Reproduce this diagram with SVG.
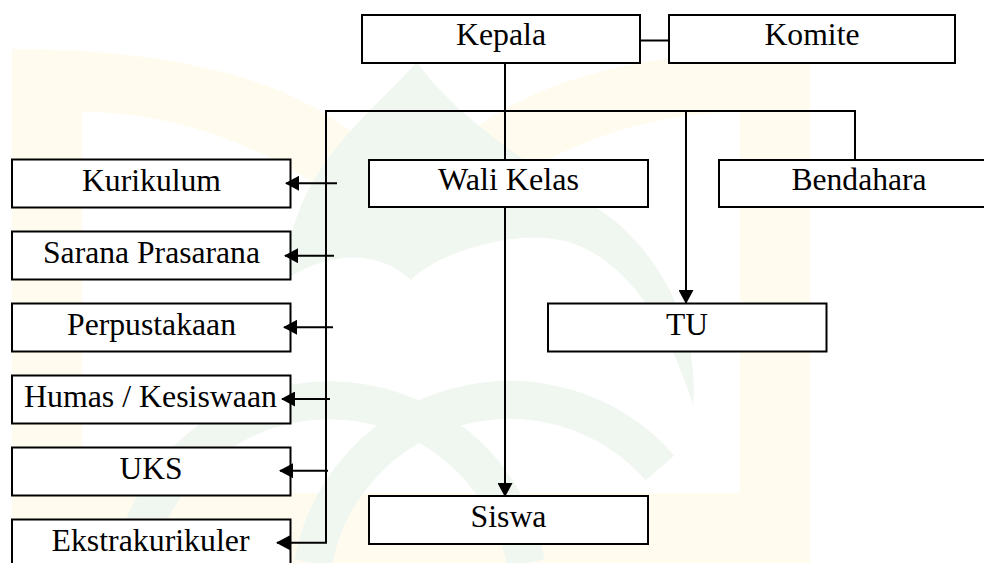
<svg xmlns="http://www.w3.org/2000/svg" width="984" height="563" viewBox="0 0 984 563">
  <style>
    .box { fill: #ffffff; stroke: #000000; stroke-width: 2; }
    .lbl { font-size: 31px; fill: #000000; text-anchor: middle; }
    .ln { fill: none; stroke: #000000; stroke-width: 2; }
    .arr { marker-end: url(#ah); }
    .wmy { fill: #fffcef; fill-rule: evenodd; }
    .wmg { fill: #f0f7f1; }
    .wmgs { fill: none; stroke: #f0f7f1; stroke-width: 38; }
  </style>
  <defs>
    <marker id="ah" markerUnits="userSpaceOnUse" markerWidth="14" markerHeight="15" refX="13" refY="7.5" orient="auto">
      <path d="M0,0 L14,7.5 L0,15 Z" fill="#000000"/>
    </marker>
  </defs>

  <rect x="0" y="0" width="984" height="563" fill="#ffffff"/>

  <g id="watermark">
    <path class="wmy" d="M12,563 L12,49 C200,50 330,85 411,190 C492,85 622,50 810,49 L810,563 Z M82,493 L82,112 C200,112 340,170 411,280 C482,170 622,112 740,112 L740,493 Z"/>
    <path class="wmg" d="M417,62 C365,120 290,170 285,280 C330,250 380,250 411,280 C440,250 520,230 560,240 C610,250 660,300 693,405 C700,330 660,250 600,210 C520,160 450,110 417,62 Z"/>
    <path class="wmgs" d="M133,563 A200,200 0 0 1 526,563"/>
    <path class="wmgs" d="M313,563 A200,200 0 0 1 660,468"/>
  </g>

  <g id="nodes" font-family="Liberation Serif, Times New Roman, serif">
  <g id="node-kepala">
    <rect class="box" x="362" y="15" width="278" height="48"/>
    <text class="lbl" x="501" y="45" textLength="90" lengthAdjust="spacingAndGlyphs">Kepala</text>
  </g>
  <g id="node-komite">
    <rect class="box" x="669" y="15" width="286" height="48"/>
    <text class="lbl" x="812" y="45" textLength="95" lengthAdjust="spacingAndGlyphs">Komite</text>
  </g>
  <g id="node-walikelas">
    <rect class="box" x="369" y="160" width="279" height="47"/>
    <text class="lbl" x="508.5" y="190" textLength="141" lengthAdjust="spacingAndGlyphs">Wali Kelas</text>
  </g>
  <g id="node-bendahara">
    <rect class="box" x="719" y="160" width="280" height="47"/>
    <text class="lbl" x="859" y="190" textLength="135" lengthAdjust="spacingAndGlyphs">Bendahara</text>
  </g>
  <g id="node-tu">
    <rect class="box" x="548" y="303.5" width="278.5" height="48"/>
    <text class="lbl" x="687" y="335" textLength="42" lengthAdjust="spacingAndGlyphs">TU</text>
  </g>
  <g id="node-siswa">
    <rect class="box" x="369" y="496" width="279" height="48"/>
    <text class="lbl" x="508.5" y="527" textLength="76" lengthAdjust="spacingAndGlyphs">Siswa</text>
  </g>
  <g id="node-kurikulum">
    <rect class="box" x="12" y="159.5" width="278.5" height="48"/>
    <text class="lbl" x="151.5" y="191" textLength="139" lengthAdjust="spacingAndGlyphs">Kurikulum</text>
  </g>
  <g id="node-sarana">
    <rect class="box" x="12" y="231.5" width="278.5" height="48"/>
    <text class="lbl" x="151.5" y="263" textLength="217" lengthAdjust="spacingAndGlyphs">Sarana Prasarana</text>
  </g>
  <g id="node-perpustakaan">
    <rect class="box" x="12" y="303.5" width="278.5" height="48"/>
    <text class="lbl" x="151.5" y="335" textLength="169" lengthAdjust="spacingAndGlyphs">Perpustakaan</text>
  </g>
  <g id="node-humas">
    <rect class="box" x="12" y="375.5" width="278.5" height="48"/>
    <text class="lbl" x="150.5" y="407" textLength="253" lengthAdjust="spacingAndGlyphs">Humas / Kesiswaan</text>
  </g>
  <g id="node-uks">
    <rect class="box" x="12" y="447.5" width="278.5" height="48"/>
    <text class="lbl" x="151" y="479" textLength="63" lengthAdjust="spacingAndGlyphs">UKS</text>
  </g>
  <g id="node-ekstrakurikuler">
    <rect class="box" x="12" y="519.5" width="278.5" height="60"/>
    <text class="lbl" x="150.5" y="551" textLength="198" lengthAdjust="spacingAndGlyphs">Ekstrakurikuler</text>
  </g>
  </g>

  <g id="connectors">
    <line class="ln" x1="640" y1="40.5" x2="669" y2="40.5"/>
    <line class="ln" x1="505" y1="63" x2="505" y2="160"/>
    <polyline class="ln" points="326,543 326,111 855,111 855,160"/>
    <line class="ln arr" x1="686" y1="111" x2="686" y2="303"/>
    <line class="ln arr" x1="505" y1="207" x2="505" y2="496"/>
    <line class="ln arr" x1="337" y1="183.3" x2="286" y2="183.3"/>
    <line class="ln arr" x1="334" y1="255.7" x2="285" y2="255.7"/>
    <line class="ln arr" x1="333" y1="327.3" x2="284" y2="327.3"/>
    <line class="ln arr" x1="330" y1="399" x2="282" y2="399"/>
    <line class="ln arr" x1="328" y1="470.7" x2="280" y2="470.7"/>
    <line class="ln arr" x1="327" y1="542.7" x2="277" y2="542.7"/>
  </g>
</svg>
